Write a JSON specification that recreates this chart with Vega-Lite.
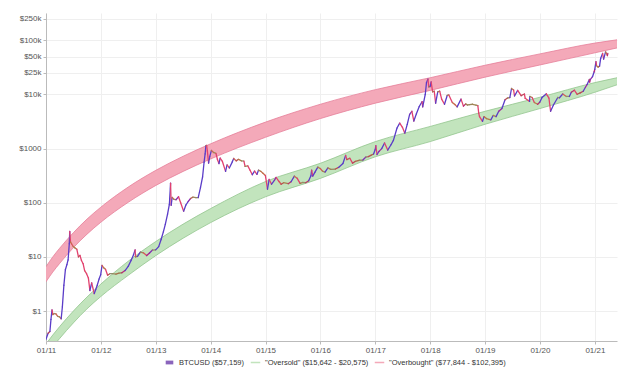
{
  "$schema": "https://vega.github.io/schema/vega-lite/v6.json",
  "autosize": {"type": "none"},
  "width": 571,
  "height": 328,
  "padding": {"left": 46, "top": 13, "right": 14, "bottom": 37},
  "background": "white",
  "config": {
    "font": "Liberation Sans",
    "view": {"stroke": null},
    "axis": {"labelFontSize": 8, "labelColor": "#555", "gridColor": "#efefef", "domainColor": "#bbb", "tickColor": "#bbb", "tickSize": 3, "labelPadding": 2, "title": null, "labelFlush": false},
    "legend": {"labelFontSize": 7.5, "labelColor": "#333"}
  },
  "datasets": {
    "bands": [
      {"date": "2011-01-01", "ob_lo": 3.47, "ob_hi": 6.6, "os_lo": 0.148, "os_hi": 0.247},
      {"date": "2011-02-15", "ob_lo": 5.25, "ob_hi": 10.0, "os_lo": 0.219, "os_hi": 0.361},
      {"date": "2011-04-02", "ob_lo": 7.59, "ob_hi": 14.5, "os_lo": 0.312, "os_hi": 0.518},
      {"date": "2011-07-02", "ob_lo": 14.8, "ob_hi": 28, "os_lo": 0.604, "os_hi": 1.0},
      {"date": "2011-10-01", "ob_lo": 26.3, "ob_hi": 50, "os_lo": 1.10, "os_hi": 1.82},
      {"date": "2012-01-01", "ob_lo": 43.7, "ob_hi": 83, "os_lo": 1.86, "os_hi": 3.15},
      {"date": "2012-07-01", "ob_lo": 102, "ob_hi": 195, "os_lo": 4.57, "os_hi": 8.32},
      {"date": "2013-01-01", "ob_lo": 209, "ob_hi": 398, "os_lo": 10.6, "os_hi": 19.3},
      {"date": "2013-07-02", "ob_lo": 380, "ob_hi": 724, "os_lo": 22.2, "os_hi": 40.4},
      {"date": "2014-01-01", "ob_lo": 646, "ob_hi": 1230, "os_lo": 43.1, "os_hi": 78.3},
      {"date": "2015-01-01", "ob_lo": 1620, "ob_hi": 3090, "os_lo": 129, "os_hi": 247},
      {"date": "2016-01-01", "ob_lo": 3590, "ob_hi": 6600, "os_lo": 282, "os_hi": 537},
      {"date": "2017-01-01", "ob_lo": 6920, "ob_hi": 12300, "os_lo": 708, "os_hi": 1350},
      {"date": "2018-01-01", "ob_lo": 11900, "ob_hi": 20400, "os_lo": 1350, "os_hi": 2570},
      {"date": "2019-01-01", "ob_lo": 20900, "ob_hi": 34700, "os_lo": 2820, "os_hi": 4900},
      {"date": "2020-01-01", "ob_lo": 35100, "ob_hi": 56200, "os_lo": 5500, "os_hi": 8900},
      {"date": "2021-01-01", "ob_lo": 58900, "ob_hi": 89100, "os_lo": 11000, "os_hi": 16600},
      {"date": "2021-05-28", "ob_lo": 72400, "ob_hi": 102400, "os_lo": 15100, "os_hi": 20400}
    ],
    "btc": [
      {"d": "2011-01-01", "c": 0.30}, {"d": "2011-01-15", "c": 0.39}, {"d": "2011-01-27", "c": 0.42}, {"d": "2011-02-03", "c": 0.70},
      {"d": "2011-02-10", "c": 1.05}, {"d": "2011-02-16", "c": 0.86}, {"d": "2011-02-25", "c": 0.90}, {"d": "2011-03-08", "c": 0.89},
      {"d": "2011-03-20", "c": 0.80}, {"d": "2011-04-01", "c": 0.78}, {"d": "2011-04-12", "c": 0.72}, {"d": "2011-04-20", "c": 1.20},
      {"d": "2011-04-30", "c": 3.0}, {"d": "2011-05-10", "c": 5.8}, {"d": "2011-05-20", "c": 7.2}, {"d": "2011-05-28", "c": 8.8},
      {"d": "2011-06-05", "c": 17.5}, {"d": "2011-06-08", "c": 29.6}, {"d": "2011-06-13", "c": 19.0}, {"d": "2011-06-20", "c": 17.5},
      {"d": "2011-07-01", "c": 15.6}, {"d": "2011-07-12", "c": 14.7}, {"d": "2011-07-25", "c": 13.9}, {"d": "2011-08-05", "c": 10.0},
      {"d": "2011-08-15", "c": 10.7}, {"d": "2011-08-25", "c": 8.6}, {"d": "2011-09-05", "c": 7.5}, {"d": "2011-09-15", "c": 5.6},
      {"d": "2011-09-28", "c": 4.9}, {"d": "2011-10-10", "c": 4.1}, {"d": "2011-10-20", "c": 2.4}, {"d": "2011-11-01", "c": 3.3},
      {"d": "2011-11-18", "c": 2.1}, {"d": "2011-11-28", "c": 2.5}, {"d": "2011-12-08", "c": 3.0}, {"d": "2011-12-20", "c": 3.9},
      {"d": "2011-12-31", "c": 4.7}, {"d": "2012-01-09", "c": 7.0}, {"d": "2012-01-20", "c": 6.3}, {"d": "2012-02-01", "c": 5.9},
      {"d": "2012-02-15", "c": 4.6}, {"d": "2012-03-01", "c": 4.9}, {"d": "2012-03-20", "c": 4.9}, {"d": "2012-04-10", "c": 4.8},
      {"d": "2012-05-01", "c": 5.0}, {"d": "2012-05-20", "c": 5.1}, {"d": "2012-06-10", "c": 5.6}, {"d": "2012-07-01", "c": 6.7},
      {"d": "2012-07-20", "c": 8.6}, {"d": "2012-08-05", "c": 10.9}, {"d": "2012-08-16", "c": 13.5}, {"d": "2012-08-19", "c": 10.0},
      {"d": "2012-09-01", "c": 10.2}, {"d": "2012-09-20", "c": 12.3}, {"d": "2012-10-10", "c": 11.9}, {"d": "2012-11-01", "c": 10.6},
      {"d": "2012-11-20", "c": 11.8}, {"d": "2012-12-10", "c": 13.4}, {"d": "2012-12-31", "c": 13.5}, {"d": "2013-01-20", "c": 15.5},
      {"d": "2013-02-05", "c": 21}, {"d": "2013-02-20", "c": 29}, {"d": "2013-03-05", "c": 40}, {"d": "2013-03-20", "c": 62},
      {"d": "2013-04-01", "c": 93}, {"d": "2013-04-09", "c": 230}, {"d": "2013-04-13", "c": 90}, {"d": "2013-04-20", "c": 126},
      {"d": "2013-05-01", "c": 116}, {"d": "2013-05-15", "c": 114}, {"d": "2013-06-01", "c": 129}, {"d": "2013-06-15", "c": 100},
      {"d": "2013-07-05", "c": 70}, {"d": "2013-07-20", "c": 91}, {"d": "2013-08-05", "c": 106}, {"d": "2013-08-20", "c": 120},
      {"d": "2013-09-05", "c": 127}, {"d": "2013-09-25", "c": 124}, {"d": "2013-10-10", "c": 125}, {"d": "2013-10-25", "c": 190},
      {"d": "2013-11-08", "c": 300}, {"d": "2013-11-18", "c": 560}, {"d": "2013-11-25", "c": 800}, {"d": "2013-11-30", "c": 1130},
      {"d": "2013-12-05", "c": 1150}, {"d": "2013-12-10", "c": 900}, {"d": "2013-12-18", "c": 540}, {"d": "2013-12-26", "c": 720},
      {"d": "2014-01-06", "c": 930}, {"d": "2014-01-20", "c": 850}, {"d": "2014-02-05", "c": 820}, {"d": "2014-02-15", "c": 630},
      {"d": "2014-02-25", "c": 530}, {"d": "2014-03-05", "c": 670}, {"d": "2014-03-20", "c": 580}, {"d": "2014-04-10", "c": 380},
      {"d": "2014-04-20", "c": 500}, {"d": "2014-05-05", "c": 440}, {"d": "2014-05-25", "c": 570}, {"d": "2014-06-03", "c": 660},
      {"d": "2014-06-20", "c": 595}, {"d": "2014-07-05", "c": 635}, {"d": "2014-07-25", "c": 595}, {"d": "2014-08-10", "c": 590},
      {"d": "2014-08-18", "c": 470}, {"d": "2014-09-05", "c": 480}, {"d": "2014-09-20", "c": 400}, {"d": "2014-10-05", "c": 330},
      {"d": "2014-10-20", "c": 385}, {"d": "2014-11-05", "c": 335}, {"d": "2014-11-15", "c": 400}, {"d": "2014-12-01", "c": 380},
      {"d": "2014-12-15", "c": 350}, {"d": "2014-12-31", "c": 320}, {"d": "2015-01-14", "c": 178}, {"d": "2015-01-25", "c": 270},
      {"d": "2015-02-10", "c": 220}, {"d": "2015-03-01", "c": 260}, {"d": "2015-03-12", "c": 294}, {"d": "2015-04-01", "c": 247},
      {"d": "2015-04-15", "c": 220}, {"d": "2015-05-01", "c": 235}, {"d": "2015-06-01", "c": 225}, {"d": "2015-06-20", "c": 245},
      {"d": "2015-07-12", "c": 310}, {"d": "2015-07-30", "c": 285}, {"d": "2015-08-19", "c": 228}, {"d": "2015-09-05", "c": 237},
      {"d": "2015-09-25", "c": 235}, {"d": "2015-10-15", "c": 255}, {"d": "2015-10-30", "c": 315}, {"d": "2015-11-04", "c": 400},
      {"d": "2015-11-11", "c": 310}, {"d": "2015-11-25", "c": 365}, {"d": "2015-12-15", "c": 455}, {"d": "2015-12-31", "c": 430},
      {"d": "2016-01-15", "c": 385}, {"d": "2016-02-01", "c": 370}, {"d": "2016-02-20", "c": 440}, {"d": "2016-03-10", "c": 415},
      {"d": "2016-04-10", "c": 420}, {"d": "2016-05-01", "c": 450}, {"d": "2016-05-30", "c": 530}, {"d": "2016-06-17", "c": 750},
      {"d": "2016-06-25", "c": 625}, {"d": "2016-07-15", "c": 665}, {"d": "2016-08-02", "c": 540}, {"d": "2016-08-20", "c": 580},
      {"d": "2016-09-15", "c": 610}, {"d": "2016-10-10", "c": 615}, {"d": "2016-10-30", "c": 700}, {"d": "2016-11-15", "c": 710},
      {"d": "2016-12-05", "c": 760}, {"d": "2016-12-20", "c": 795}, {"d": "2016-12-31", "c": 960}, {"d": "2017-01-04", "c": 1130},
      {"d": "2017-01-12", "c": 780}, {"d": "2017-01-25", "c": 890}, {"d": "2017-02-12", "c": 1000}, {"d": "2017-03-03", "c": 1270},
      {"d": "2017-03-24", "c": 940}, {"d": "2017-04-15", "c": 1180}, {"d": "2017-05-01", "c": 1420}, {"d": "2017-05-25", "c": 2400},
      {"d": "2017-06-12", "c": 2960}, {"d": "2017-06-30", "c": 2480}, {"d": "2017-07-16", "c": 1930}, {"d": "2017-08-01", "c": 2800},
      {"d": "2017-08-17", "c": 4300}, {"d": "2017-09-01", "c": 4900}, {"d": "2017-09-14", "c": 3230}, {"d": "2017-10-01", "c": 4400},
      {"d": "2017-10-20", "c": 6000}, {"d": "2017-11-08", "c": 7400}, {"d": "2017-11-12", "c": 5900}, {"d": "2017-11-29", "c": 10000},
      {"d": "2017-12-07", "c": 16500}, {"d": "2017-12-17", "c": 19300}, {"d": "2017-12-22", "c": 13800}, {"d": "2017-12-31", "c": 14000},
      {"d": "2018-01-07", "c": 17100}, {"d": "2018-01-17", "c": 11200}, {"d": "2018-01-28", "c": 11500}, {"d": "2018-02-06", "c": 6900},
      {"d": "2018-02-20", "c": 11200}, {"d": "2018-03-05", "c": 11500}, {"d": "2018-03-18", "c": 8200}, {"d": "2018-04-06", "c": 6600},
      {"d": "2018-04-24", "c": 9600}, {"d": "2018-05-05", "c": 9800}, {"d": "2018-05-28", "c": 7100}, {"d": "2018-06-15", "c": 6500},
      {"d": "2018-06-29", "c": 5900}, {"d": "2018-07-25", "c": 8200}, {"d": "2018-08-10", "c": 6100}, {"d": "2018-08-25", "c": 6700},
      {"d": "2018-09-05", "c": 6400}, {"d": "2018-09-20", "c": 6500}, {"d": "2018-10-10", "c": 6600}, {"d": "2018-11-01", "c": 6350},
      {"d": "2018-11-14", "c": 6200}, {"d": "2018-11-20", "c": 4500}, {"d": "2018-11-25", "c": 3900}, {"d": "2018-12-15", "c": 3200},
      {"d": "2018-12-25", "c": 3900}, {"d": "2019-01-10", "c": 3600}, {"d": "2019-02-08", "c": 3400}, {"d": "2019-02-24", "c": 4100},
      {"d": "2019-03-15", "c": 3900}, {"d": "2019-04-02", "c": 4900}, {"d": "2019-04-23", "c": 5500}, {"d": "2019-05-14", "c": 8000},
      {"d": "2019-05-30", "c": 8600}, {"d": "2019-06-15", "c": 8800}, {"d": "2019-06-26", "c": 12900}, {"d": "2019-07-10", "c": 12100},
      {"d": "2019-07-16", "c": 9400}, {"d": "2019-08-06", "c": 11900}, {"d": "2019-08-29", "c": 9500}, {"d": "2019-09-20", "c": 10200},
      {"d": "2019-09-25", "c": 8500}, {"d": "2019-10-24", "c": 7450}, {"d": "2019-10-26", "c": 9200}, {"d": "2019-11-10", "c": 8800},
      {"d": "2019-11-25", "c": 7100}, {"d": "2019-12-17", "c": 6600}, {"d": "2019-12-31", "c": 7200}, {"d": "2020-01-15", "c": 8800},
      {"d": "2020-02-13", "c": 10300}, {"d": "2020-03-01", "c": 8600}, {"d": "2020-03-12", "c": 4900}, {"d": "2020-03-31", "c": 6400},
      {"d": "2020-04-29", "c": 8800}, {"d": "2020-05-10", "c": 8700}, {"d": "2020-06-01", "c": 10200}, {"d": "2020-06-25", "c": 9200},
      {"d": "2020-07-15", "c": 9200}, {"d": "2020-07-28", "c": 11000}, {"d": "2020-08-17", "c": 12000}, {"d": "2020-09-05", "c": 10100},
      {"d": "2020-09-25", "c": 10700}, {"d": "2020-10-15", "c": 11500}, {"d": "2020-10-30", "c": 13600}, {"d": "2020-11-10", "c": 15300},
      {"d": "2020-11-25", "c": 19000}, {"d": "2020-11-27", "c": 17000}, {"d": "2020-12-01", "c": 18800}, {"d": "2020-12-16", "c": 21300},
      {"d": "2020-12-27", "c": 26300}, {"d": "2020-12-31", "c": 29000}, {"d": "2021-01-08", "c": 40500}, {"d": "2021-01-12", "c": 34000},
      {"d": "2021-01-22", "c": 32000}, {"d": "2021-02-01", "c": 33500}, {"d": "2021-02-08", "c": 46200}, {"d": "2021-02-21", "c": 57500},
      {"d": "2021-02-28", "c": 45000}, {"d": "2021-03-13", "c": 61200}, {"d": "2021-03-18", "c": 57700}, {"d": "2021-03-25", "c": 52300},
      {"d": "2021-03-28", "c": 57159}
    ]
  },
  "layer": [
    {
      "data": {"name": "bands"},
      "mark": {"type": "area", "interpolate": "monotone", "clip": true},
      "encoding": {
        "x": {"field": "date", "type": "temporal",
              "scale": {"type": "utc", "domain": [{"year": 2011, "month": 1, "date": 1, "utc": true}, {"year": 2021, "month": 5, "date": 28, "utc": true}]},
              "axis": {"format": "%m/%y", "tickCount": {"interval": "year", "step": 1}, "grid": true, "labelPadding": 2}},
        "y": {"field": "os_lo", "type": "quantitative",
              "scale": {"type": "log", "domain": [0.28, 320000], "nice": false},
              "axis": {"values": [1, 10, 100, 1000, 10000, 25000, 50000, 100000, 250000], "labelExpr": "datum.value >= 10000 ? '$' + (datum.value/1000) + 'k' : '$' + datum.value", "grid": true}},
        "y2": {"field": "os_hi"},
        "fill": {"datum": "\"Oversold\" ($15,642 - $20,575)", "type": "nominal",
                 "scale": {"domain": ["BTCUSD ($57,159)", "\"Oversold\" ($15,642 - $20,575)", "\"Overbought\" ($77,844 - $102,395)"], "range": ["#8a64bc", "#c2e4bd", "#f4a9b9"]},
                 "legend": {"orient": "none", "legendX": 118, "legendY": 344, "direction": "horizontal", "symbolType": "M-1,-0.16H1V0.16H-1Z", "symbolSize": 90, "columnPadding": 5, "title": null, "labelLimit": 300,
                            "encode": {"symbols": {"update": {"shape": {"signal": "indexof(datum.value, 'BTC') >= 0 ? 'M-0.8,-0.4H0.8V0.4H-0.8Z' : 'M-1,-0.16H1V0.16H-1Z'"}}}}}}
      }
    },
    {
      "data": {"name": "bands"},
      "mark": {"type": "area", "interpolate": "monotone", "clip": true},
      "encoding": {
        "x": {"field": "date", "type": "temporal"},
        "y": {"field": "ob_lo", "type": "quantitative"},
        "y2": {"field": "ob_hi"},
        "fill": {"datum": "\"Overbought\" ($77,844 - $102,395)", "type": "nominal"}
      }
    },
    {
      "data": {"name": "bands"},
      "transform": [{"fold": ["os_lo", "os_hi"], "as": ["edge", "v"]}],
      "mark": {"type": "line", "interpolate": "monotone", "clip": true, "strokeWidth": 0.8, "stroke": "#93c58e"},
      "encoding": {
        "x": {"field": "date", "type": "temporal"},
        "y": {"field": "v", "type": "quantitative"},
        "detail": {"field": "edge", "type": "nominal"}
      }
    },
    {
      "data": {"name": "bands"},
      "transform": [{"fold": ["ob_lo", "ob_hi"], "as": ["edge", "v"]}],
      "mark": {"type": "line", "interpolate": "monotone", "clip": true, "strokeWidth": 0.8, "stroke": "#e67f99"},
      "encoding": {
        "x": {"field": "date", "type": "temporal"},
        "y": {"field": "v", "type": "quantitative"},
        "detail": {"field": "edge", "type": "nominal"}
      }
    },
    {
      "data": {"name": "btc"},
      "transform": [
        {"window": [{"op": "lead", "field": "d", "as": "d2"}, {"op": "lead", "field": "c", "as": "c2"}], "sort": [{"field": "d"}]},
        {"filter": "datum.c2 != null"},
        {"calculate": "log(datum.c2 / datum.c) / LN10", "as": "chg"}
      ],
      "mark": {"type": "rule", "clip": true, "strokeWidth": 1.3, "strokeCap": "round"},
      "encoding": {
        "x": {"field": "d", "type": "temporal"},
        "x2": {"field": "d2"},
        "y": {"field": "c", "type": "quantitative"},
        "y2": {"field": "c2"},
        "stroke": {"field": "chg", "type": "quantitative", "legend": null,
                   "scale": {"domain": [-0.06, 0, 0.06], "range": ["#e2416e", "#90906e", "#5a3cc8"], "clamp": true}}
      }
    }
  ]
}
